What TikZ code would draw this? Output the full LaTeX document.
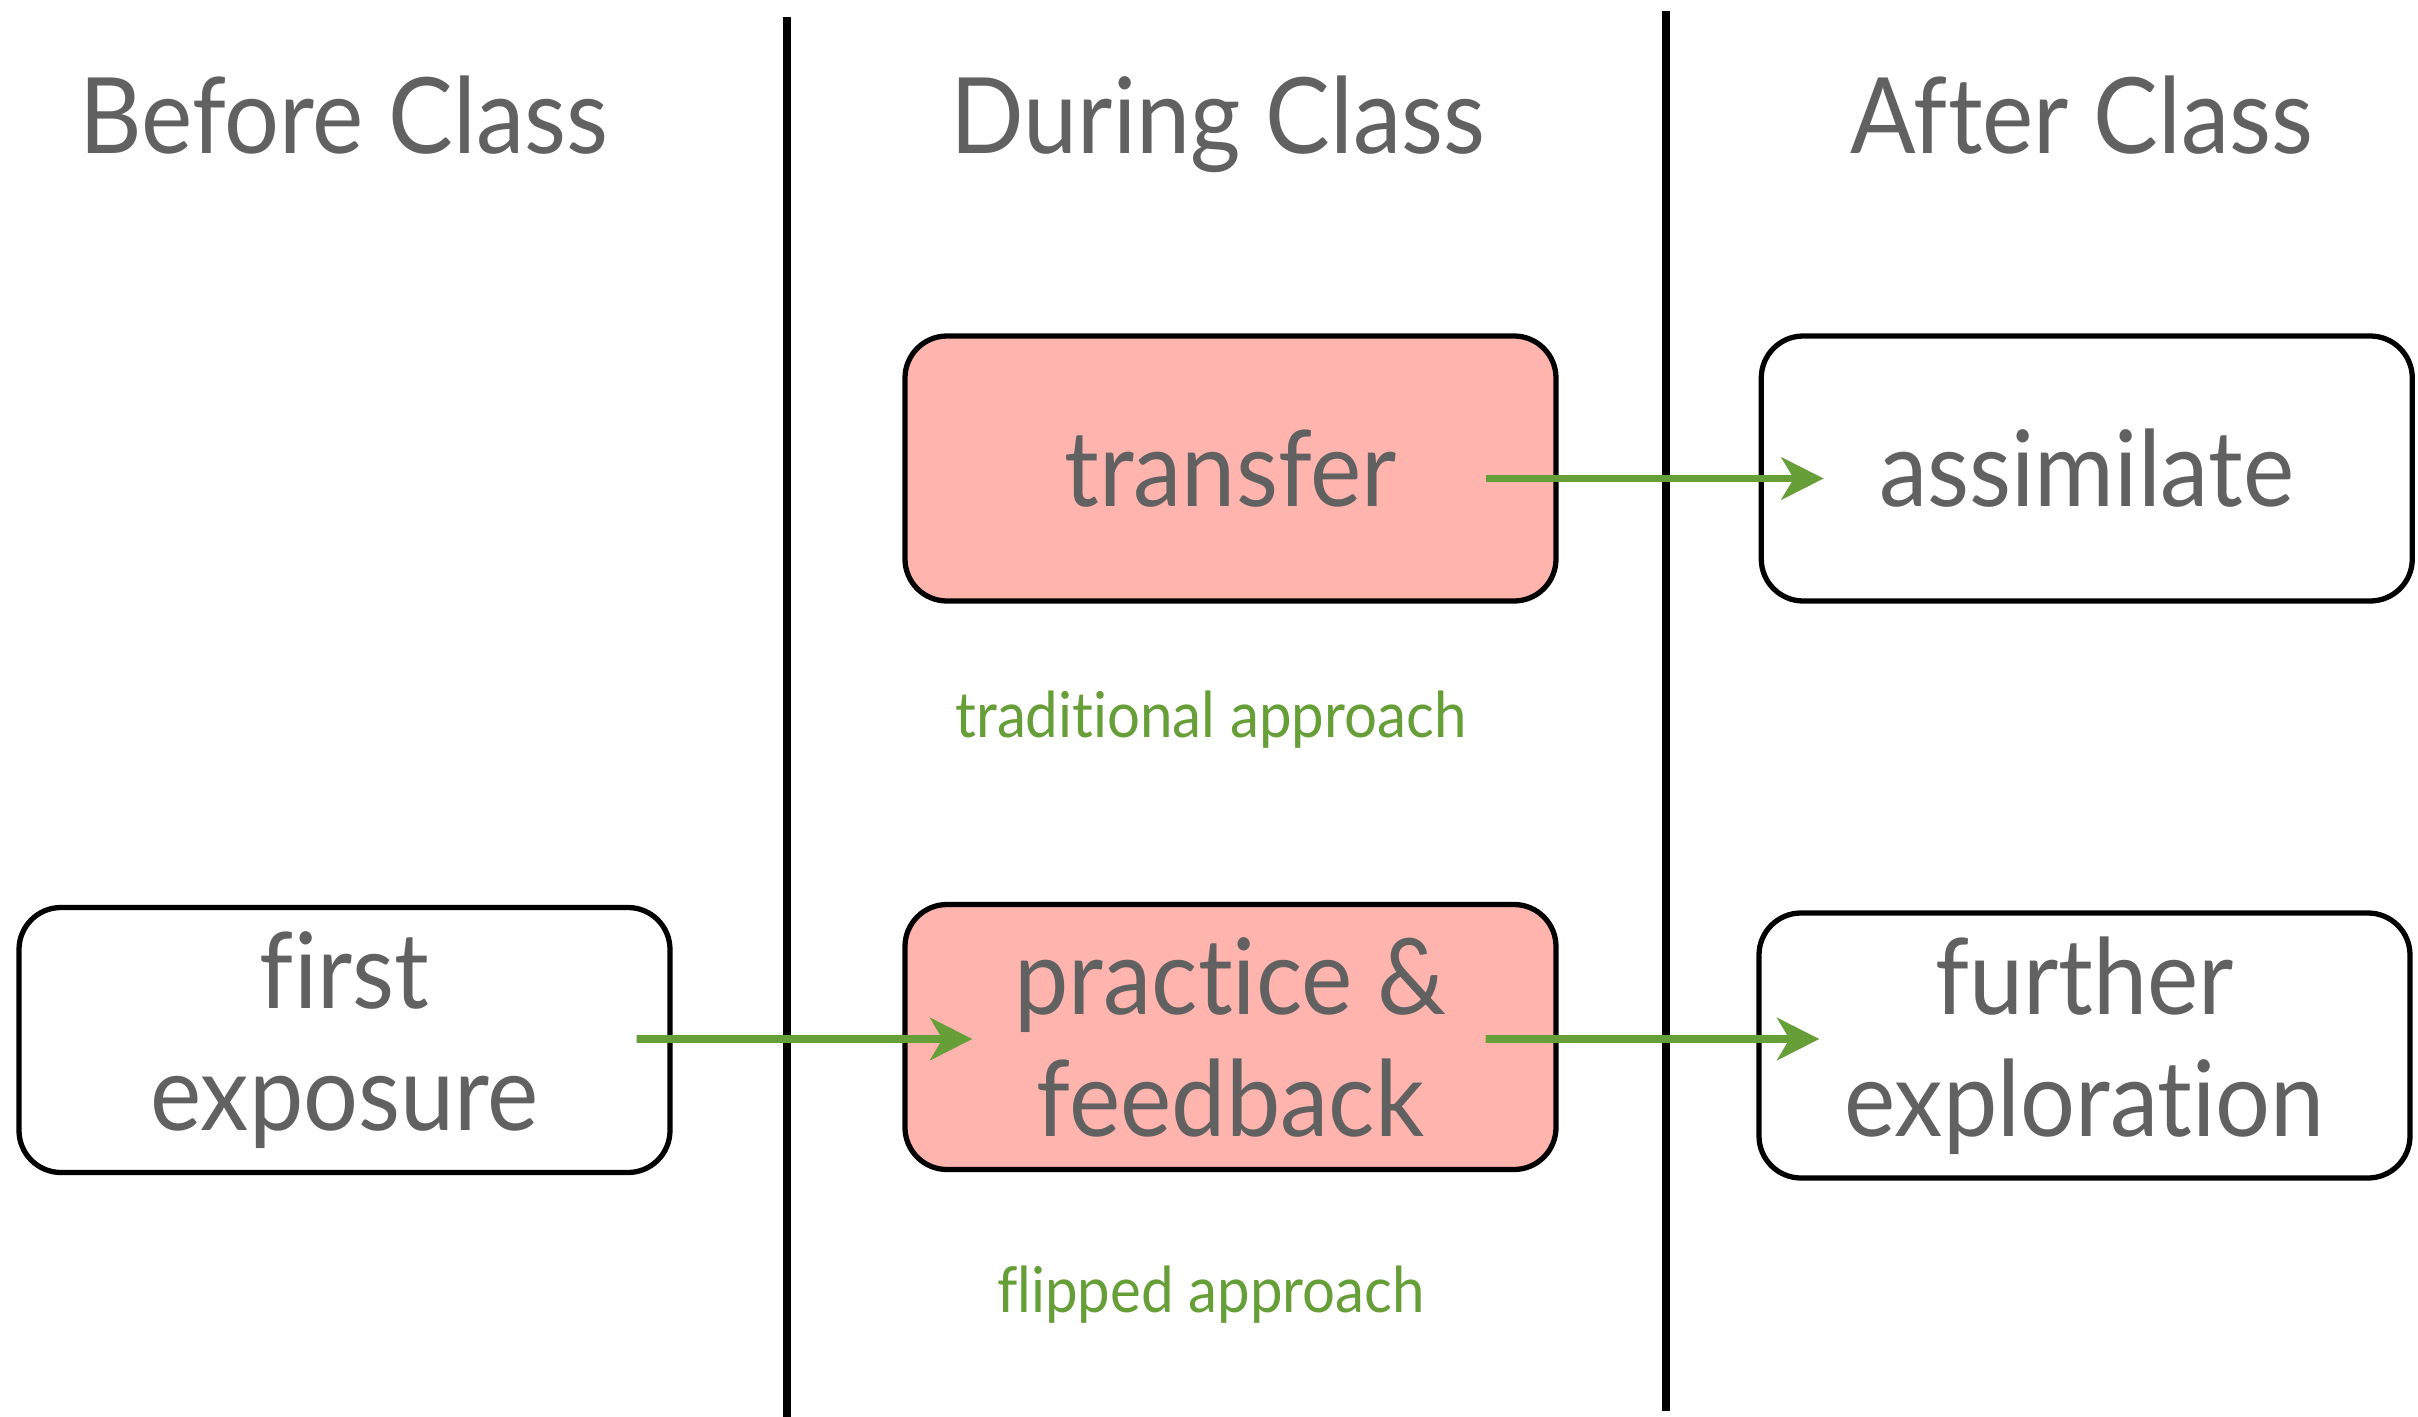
\documentclass[tikz,border=0pt]{standalone}
\usepackage{fontspec}
\setmainfont{Lato}[FakeStretch=0.92,Ligatures=NoCommon]
\usetikzlibrary{arrows.meta,positioning}

\definecolor{inkgray}{RGB}{97,97,97}
\definecolor{leafgreen}{RGB}{102,158,56}
\definecolor{salmon}{RGB}{255,180,174}

\begin{document}
\begin{tikzpicture}[>={Stealth[length=12pt,width=12pt,inset=3.5pt]},
                    x=1cm,y=1cm,
                    stage/.style={rounded corners=0.42cm,draw,line width=1.5pt,
                      minimum width=6.51cm,minimum height=2.65cm,align=center,
                      text=inkgray,font=\fontsize{30}{34.7}\selectfont},
                    inclass/.style={stage,fill=salmon},
                    heading/.style={anchor=base,text=inkgray,font=\fontsize{30}{34.7}\selectfont},
                    approach/.style={anchor=base,text=leafgreen,font=\fontsize{18}{20}\selectfont},
                    divider/.style={line width=2pt},
                    flow/.style={->,draw=leafgreen,line width=2.2pt}]
  \useasboundingbox (0,0) rectangle (24.18,-14.17);

  % column dividers
  \draw[divider] (7.87,-0.17) -- (7.87,-14.17);
  \draw[divider] (16.66,-0.11) -- (16.66,-14.11);

  % column headings
  \node[heading] (before) at (3.44,-1.53) {Before Class};
  \node[heading] (during) at (12.18,-1.53) {During Class};
  \node[heading] (after)  at (20.82,-1.53) {After Class};

  % traditional approach
  \node[inclass] (transfer) at (12.305,-4.685) {transfer};
  \node[stage] (assimilate) [right=2.0cm of transfer] {assimilate};
  \node[approach] (trad) at (12.11,-7.37) {traditional approach};

  % flipped approach
  \node[stage] (exposure) at (3.445,-10.40) {first\\exposure};
  \node[inclass] (practice) at (12.305,-10.37) {practice \&\\feedback};
  \node[stage] (explore) at (20.845,-10.455) {further\\exploration};
  \node[approach] (flip) at (12.11,-13.12) {flipped approach};

  \path
    ([xshift=-0.73cm,yshift=-0.1cm]transfer.east) edge[flow] ([xshift=0.65cm,yshift=-0.1cm]assimilate.west)
    ([xshift=-0.36cm,yshift=0.01cm]exposure.east) edge[flow] ([xshift=0.70cm,yshift=-0.02cm]practice.west)
    ([xshift=-0.73cm,yshift=-0.02cm]practice.east) edge[flow] ([xshift=0.63cm,yshift=0.065cm]explore.west);
\end{tikzpicture}
\end{document}
